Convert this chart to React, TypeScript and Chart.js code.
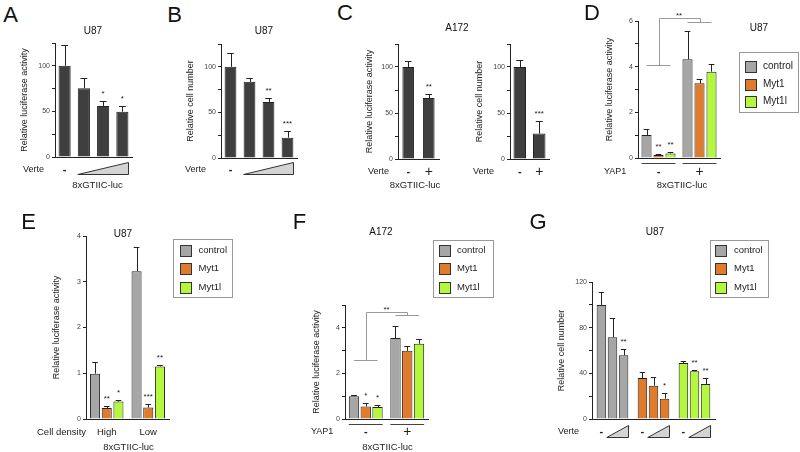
import React, { useEffect, useRef } from "react";
import { Chart, registerables } from "chart.js";

Chart.register(...registerables);

const FONT = "'Liberation Sans', Arial, Helvetica, sans-serif";
Chart.defaults.font.family = FONT;

// ---------------- data ----------------
const SERIES = ["control", "Myt1", "Myt1l"];
const SERIES_COLORS = ["#a6a6a6", "#e07b2c", "#b4f83e"];
const DARK_BAR = "#3f3f3f";

// A: U87 luciferase, Verte dose
const A_DOSES = ["-", "low", "mid", "high"];
const A_VALUES = [100, 75.5, 56, 49.6];
const A_ERRORS = [23, 11.5, 5.7, 6.2];
const A_STARS = ["", "", "*", "*"];

// B: U87 cell number, Verte dose
const B_DOSES = ["-", "low", "mid", "high"];
const B_VALUES = [100, 83.5, 61.5, 22.3];
const B_ERRORS = [15, 4.5, 4.1, 7.7];
const B_STARS = ["", "", "**", "***"];

// C: A172
const C_VERTE = ["-", "+"];
const C_LUC_VALUES = [100, 66.3];
const C_LUC_ERRORS = [6.5, 4.7];
const C_LUC_STARS = ["", "**"];
const C_CELL_VALUES = [100, 27.6];
const C_CELL_ERRORS = [8, 13.7];
const C_CELL_STARS = ["", "***"];

// D: U87, YAP1 -/+
const YAP1 = ["-", "+"];
const D_CONTROL = [1.01, 4.32];
const D_CONTROL_ERR = [0.25, 1.26];
const D_MYT1 = [0.13, 3.27];
const D_MYT1_ERR = [0.045, 0.19];
const D_MYT1L = [0.2, 3.78];
const D_MYT1L_ERR = [0.05, 0.32];
const D_CONTROL_STARS = ["", ""];
const D_MYT1_STARS = ["**", ""];
const D_MYT1L_STARS = ["**", ""];

// E: U87, cell density
const DENSITY = ["High", "Low"];
const E_CONTROL = [0.99, 3.23];
const E_CONTROL_ERR = [0.26, 0.54];
const E_MYT1 = [0.24, 0.25];
const E_MYT1_ERR = [0.04, 0.07];
const E_MYT1L = [0.38, 1.15];
const E_MYT1L_ERR = [0.03, 0.04];
const E_CONTROL_STARS = ["", ""];
const E_MYT1_STARS = ["**", "***"];
const E_MYT1L_STARS = ["*", "**"];

// F: A172, YAP1 -/+
const F_CONTROL = [1.0, 3.55];
const F_CONTROL_ERR = [0.05, 0.52];
const F_MYT1 = [0.55, 2.99];
const F_MYT1_ERR = [0.14, 0.21];
const F_MYT1L = [0.53, 3.3];
const F_MYT1L_ERR = [0.08, 0.23];
const F_CONTROL_STARS = ["", ""];
const F_MYT1_STARS = ["*", ""];
const F_MYT1L_STARS = ["*", ""];

// G: U87 cell number, per series with Verte doses
const G_DOSE0 = [99.9, 35.9, 49];
const G_DOSE0_ERR = [11, 5.6, 1.5];
const G_DOSE1 = [71.5, 29.2, 41.8];
const G_DOSE1_ERR = [16.7, 7.3, 0.8];
const G_DOSE2 = [55.8, 17.8, 30.7];
const G_DOSE2_ERR = [5.5, 5, 5.2];
const G_DOSE0_STARS = ["", "", ""];
const G_DOSE1_STARS = ["", "", "**"];
const G_DOSE2_STARS = ["**", "*", "**"];

// significance bracket levels (value units): low, top, right drop
const D_BRACKET = [4.06, 6.13, 5.94];
const F_BRACKET = [2.6, 4.69, 4.54];

// ---------------- drawing helpers ----------------
const INK = "#222";

function txt(ctx: any, s: string, x: number, y: number, size: number, align = "center", weight = "normal") {
  ctx.save();
  ctx.fillStyle = INK;
  ctx.font = `${weight} ${size}px ${FONT}`;
  ctx.textAlign = align;
  ctx.textBaseline = "middle";
  ctx.fillText(s, x, y);
  ctx.restore();
}

function barAt(c: any, di: number, i: number) {
  const b: any = c.getDatasetMeta(di).data[i];
  return { x: b.x, left: b.x - b.width / 2, right: b.x + b.width / 2, top: b.y };
}

function groupAt(c: any, i: number) {
  const n = c.data.datasets.length;
  const a = barAt(c, 0, i);
  const z = barAt(c, n - 1, i);
  return { first: a.x, last: z.x, left: a.left, right: z.right, center: (a.x + z.x) / 2 };
}

const snap = (v: number) => Math.round(v) + 0.5;

function hline(ctx: any, x0: number, x1: number, y: number) {
  ctx.beginPath();
  ctx.moveTo(x0, snap(y));
  ctx.lineTo(x1, snap(y));
  ctx.stroke();
}
function vline(ctx: any, x: number, y0: number, y1: number) {
  ctx.beginPath();
  ctx.moveTo(snap(x), y0);
  ctx.lineTo(snap(x), y1);
  ctx.stroke();
}

function triangle(ctx: any, x0: number, x1: number, yb: number, yt: number) {
  ctx.save();
  ctx.beginPath();
  ctx.moveTo(x0, snap(yb));
  ctx.lineTo(snap(x1), snap(yb));
  ctx.lineTo(snap(x1), snap(yt));
  ctx.closePath();
  ctx.fillStyle = "#d4d4d4";
  ctx.fill();
  ctx.strokeStyle = "#333";
  ctx.lineWidth = 1;
  ctx.stroke();
  ctx.restore();
}

function drawLegend(ctx: any, px: any, py: any, spec: any) {
  const [x0, y0, x1, y1] = spec.box;
  ctx.save();
  ctx.strokeStyle = "#999";
  ctx.lineWidth = 1;
  ctx.strokeRect(snap(px(x0)), snap(py(y0)), Math.round(x1 - x0), Math.round(y1 - y0));
  SERIES.forEach((name, i) => {
    const yc = py(spec.ys[i]);
    ctx.fillStyle = SERIES_COLORS[i];
    const sx = snap(px(spec.swX));
    const sy = snap(yc - spec.sw / 2);
    ctx.fillRect(sx, sy, spec.sw, spec.sw);
    ctx.strokeStyle = "#333";
    ctx.strokeRect(sx, sy, spec.sw, spec.sw);
    txt(ctx, name, px(spec.textX), yc, spec.size, "left");
  });
  ctx.restore();
}

function bracket(ctx: any, c: any, levels: number[]) {
  const ys = c.scales.y;
  const g0 = groupAt(c, 0);
  const g1 = groupAt(c, 1);
  const yl = ys.getPixelForValue(levels[0]);
  const yt = ys.getPixelForValue(levels[1]);
  const yd = ys.getPixelForValue(levels[2]);
  ctx.save();
  ctx.strokeStyle = "#9a9a9a";
  ctx.lineWidth = 1;
  hline(ctx, g0.first, g0.last, yl);
  vline(ctx, g0.center, snap(yl), snap(yt));
  hline(ctx, snap(g0.center), snap(g1.center), yt);
  vline(ctx, g1.center, snap(yt), snap(yd));
  hline(ctx, g1.first, g1.last, yd);
  ctx.fillStyle = INK;
  ctx.font = `8px ${FONT}`;
  ctx.textAlign = "center";
  ctx.textBaseline = "alphabetic";
  ctx.fillText("**", (g0.center + g1.center) / 2, yt - 0.5);
  ctx.restore();
}

function groupLines(ctx: any, c: any, y: number) {
  ctx.save();
  ctx.strokeStyle = "#444";
  ctx.lineWidth = 1;
  for (let i = 0; i < c.data.labels.length; i++) {
    const g = groupAt(c, i);
    hline(ctx, g.left, g.right, y);
  }
  ctx.restore();
}

const errorBars = {
  id: "errorBars",
  afterDatasetsDraw(c: any) {
    const ctx = c.ctx;
    const ys = c.scales.y;
    c.data.datasets.forEach((ds: any, di: number) => {
      c.getDatasetMeta(di).data.forEach((_el: any, i: number) => {
        const v = ds.data[i];
        const e = ds.err ? ds.err[i] : 0;
        const b = barAt(c, di, i);
        const top = ys.getPixelForValue(v + e);
        ctx.save();
        ctx.strokeStyle = INK;
        ctx.lineWidth = 1;
        vline(ctx, b.x, b.top, snap(top));
        const hw = (b.right - b.left) * 0.28;
        hline(ctx, b.x - hw, b.x + hw, top);
        const s = ds.stars ? ds.stars[i] : "";
        if (s) {
          ctx.fillStyle = INK;
          ctx.font = `8px ${FONT}`;
          ctx.textAlign = "center";
          ctx.textBaseline = "alphabetic";
          ctx.fillText(s, b.x, top - 5);
        }
        ctx.restore();
      });
    });
  },
};

// ---------------- panel configs ----------------
const dsSeries = (vals: number[][], errs: number[][], stars: string[][]) =>
  SERIES.map((name, k) => ({ label: name, data: vals[k], err: errs[k], stars: stars[k], color: SERIES_COLORS[k] }));

const PANELS: any[] = [
  {
    key: "A",
    canvas: [0, 35, 150, 160],
    area: [55, 43, 132, 157],
    titleX: 25,
    yTitle: "Relative luciferase activity",
    yMax: 125, yStep: 25, yLabels: [0, 50, 100],
    categories: A_DOSES,
    datasets: [{ label: "U87 luciferase", data: A_VALUES, err: A_ERRORS, stars: A_STARS, color: DARK_BAR }],
    catPct: 1, barPct: 0.63,
    decorate: (c: any, ctx: any, px: any, py: any) => {
      txt(ctx, "Verte", px(23), py(170), 9, "left");
      txt(ctx, "-", barAt(c, 0, 0).x, py(170), 11, "center", "bold");
      triangle(ctx, barAt(c, 0, 1).left, barAt(c, 0, 3).right, py(174), py(162));
      txt(ctx, "8xGTIIC-luc", px(97.5), py(185), 9.5);
    },
  },
  {
    key: "B",
    canvas: [150, 35, 160, 160],
    area: [221, 44, 297, 158],
    titleX: 191,
    yTitle: "Relative cell number",
    yMax: 125, yStep: 25, yLabels: [0, 50, 100],
    categories: B_DOSES,
    datasets: [{ label: "U87 cell number", data: B_VALUES, err: B_ERRORS, stars: B_STARS, color: DARK_BAR }],
    catPct: 1, barPct: 0.62,
    decorate: (c: any, ctx: any, px: any, py: any) => {
      txt(ctx, "Verte", px(185), py(170), 9, "left");
      txt(ctx, "-", barAt(c, 0, 0).x, py(170), 11, "center", "bold");
      triangle(ctx, barAt(c, 0, 1).left, barAt(c, 0, 3).right, py(174), py(162));
    },
  },
  {
    key: "C1",
    canvas: [340, 35, 110, 160],
    area: [398, 44, 439, 159],
    titleX: 370,
    yTitle: "Relative luciferase activity",
    yMax: 125, yStep: 25, yLabels: [0, 50, 100],
    categories: C_VERTE,
    datasets: [{ label: "A172 luciferase", data: C_LUC_VALUES, err: C_LUC_ERRORS, stars: C_LUC_STARS, color: DARK_BAR }],
    catPct: 1, barPct: 0.57,
    decorate: (c: any, ctx: any, px: any, py: any) => {
      txt(ctx, "Verte", px(368), py(172), 9, "left");
      txt(ctx, "-", barAt(c, 0, 0).x, py(172), 11, "center", "bold");
      txt(ctx, "+", barAt(c, 0, 1).x, py(172), 14);
      txt(ctx, "8xGTIIC-luc", px(415), py(185), 9.5);
    },
  },
  {
    key: "C2",
    canvas: [460, 35, 100, 160],
    area: [510, 44, 549, 159],
    titleX: 480,
    yTitle: "Relative cell number",
    yMax: 125, yStep: 25, yLabels: [0, 50, 100],
    categories: C_VERTE,
    datasets: [{ label: "A172 cell number", data: C_CELL_VALUES, err: C_CELL_ERRORS, stars: C_CELL_STARS, color: DARK_BAR }],
    catPct: 1, barPct: 0.64,
    decorate: (c: any, ctx: any, px: any, py: any) => {
      txt(ctx, "Verte", px(473), py(172), 9, "left");
      txt(ctx, "-", barAt(c, 0, 0).x, py(172), 11, "center", "bold");
      txt(ctx, "+", barAt(c, 0, 1).x, py(172), 14);
    },
  },
  {
    key: "D",
    canvas: [585, 0, 215, 195],
    area: [638, 21, 720, 158],
    titleX: 610,
    yTitle: "Relative luciferase activity",
    yMax: 6, yStep: 1, yLabels: [0, 2, 4, 6],
    categories: YAP1,
    datasets: dsSeries([D_CONTROL, D_MYT1, D_MYT1L], [D_CONTROL_ERR, D_MYT1_ERR, D_MYT1L_ERR], [D_CONTROL_STARS, D_MYT1_STARS, D_MYT1L_STARS]),
    catPct: 0.878, barPct: 0.84,
    decorate: (c: any, ctx: any, px: any, py: any) => {
      bracket(ctx, c, D_BRACKET);
      groupLines(ctx, c, py(163));
      txt(ctx, "YAP1", px(604), py(172), 9, "left");
      txt(ctx, "-", groupAt(c, 0).center, py(172), 11, "center", "bold");
      txt(ctx, "+", groupAt(c, 1).center, py(172), 14);
      txt(ctx, "8xGTIIC-luc", px(682), py(185), 9.5);
      drawLegend(ctx, px, py, { box: [739, 52, 798, 112], swX: 745, sw: 11, textX: 763, ys: [66.3, 84.5, 101.2], size: 10 });
    },
  },
  {
    key: "E",
    canvas: [0, 225, 240, 227],
    area: [86, 236, 169, 419],
    titleX: 57,
    yTitle: "Relative luciferase activity",
    yMax: 4, yStep: 1, yLabels: [0, 1, 2, 3, 4],
    categories: DENSITY,
    datasets: dsSeries([E_CONTROL, E_MYT1, E_MYT1L], [E_CONTROL_ERR, E_MYT1_ERR, E_MYT1L_ERR], [E_CONTROL_STARS, E_MYT1_STARS, E_MYT1L_STARS]),
    catPct: 0.845, barPct: 0.86,
    decorate: (c: any, ctx: any, px: any, py: any) => {
      txt(ctx, "Cell density", px(37), py(432), 9.5, "left");
      txt(ctx, "High", groupAt(c, 0).center, py(432), 9.5);
      txt(ctx, "Low", groupAt(c, 1).center, py(432), 9.5);
      txt(ctx, "8xGTIIC-luc", px(128.5), py(447), 9.5);
      drawLegend(ctx, px, py, { box: [173, 238.5, 232, 296], swX: 180, sw: 11, textX: 198.5, ys: [250.3, 268.7, 287], size: 9.5 });
    },
  },
  {
    key: "F",
    canvas: [290, 225, 210, 227],
    area: [345, 305, 428, 419],
    titleX: 317,
    yTitle: "Relative luciferase activity",
    yMax: 5, yStep: 1, yLabels: [0, 2, 4],
    categories: YAP1,
    datasets: dsSeries([F_CONTROL, F_MYT1, F_MYT1L], [F_CONTROL_ERR, F_MYT1_ERR, F_MYT1L_ERR], [F_CONTROL_STARS, F_MYT1_STARS, F_MYT1L_STARS]),
    catPct: 0.85, barPct: 0.88,
    decorate: (c: any, ctx: any, px: any, py: any) => {
      bracket(ctx, c, F_BRACKET);
      groupLines(ctx, c, py(424));
      txt(ctx, "YAP1", px(311), py(432), 9, "left");
      txt(ctx, "-", groupAt(c, 0).center, py(432), 11, "center", "bold");
      txt(ctx, "+", groupAt(c, 1).center, py(432), 14);
      txt(ctx, "8xGTIIC-luc", px(387.5), py(447), 9.5);
      drawLegend(ctx, px, py, { box: [432.5, 239.5, 492, 296], swX: 438.5, sw: 11, textX: 457, ys: [250.3, 268.7, 287], size: 9.5 });
    },
  },
  {
    key: "G",
    canvas: [540, 225, 260, 227],
    area: [592, 282, 715, 419],
    titleX: 562,
    yTitle: "Relative cell number",
    yMax: 120, yStep: 20, yLabels: [0, 40, 80, 120],
    categories: SERIES,
    datasets: [
      { label: "Verte -", data: G_DOSE0, err: G_DOSE0_ERR, stars: G_DOSE0_STARS, color: SERIES_COLORS },
      { label: "Verte low", data: G_DOSE1, err: G_DOSE1_ERR, stars: G_DOSE1_STARS, color: SERIES_COLORS },
      { label: "Verte high", data: G_DOSE2, err: G_DOSE2_ERR, stars: G_DOSE2_STARS, color: SERIES_COLORS },
    ],
    catPct: 0.81, barPct: 0.86,
    decorate: (c: any, ctx: any, px: any, py: any) => {
      txt(ctx, "Verte", px(558), py(432), 9, "left");
      for (let i = 0; i < SERIES.length; i++) {
        txt(ctx, "-", barAt(c, 0, i).x, py(432), 11, "center", "bold");
        triangle(ctx, barAt(c, 1, i).left - 1, barAt(c, 2, i).right, py(437), py(425));
      }
      drawLegend(ctx, px, py, { box: [710, 239.5, 768, 296], swX: 715, sw: 11, textX: 734, ys: [250.3, 268.7, 287], size: 9.5 });
    },
  },
];

const LETTERS: [string, number, number][] = [
  ["A", 10.5, 15], ["B", 174.7, 15], ["C", 345, 12.5], ["D", 592, 12.5],
  ["E", 28.5, 221.5], ["F", 299.5, 221.5], ["G", 538, 221.5],
];
const TITLES: [string, number, number][] = [
  ["U87", 93, 30.5], ["U87", 264, 30.5], ["A172", 457, 28.3], ["U87", 759, 28.3],
  ["U87", 123, 234.3], ["A172", 381, 232], ["U87", 655, 232],
];

function Panel({ cfg }: { cfg: any }) {
  const ref = useRef<HTMLCanvasElement>(null);
  const [cx, cy, cw, ch] = cfg.canvas;
  useEffect(() => {
    const [L, T, R, B] = cfg.area;
    const titleSize = 9;
    const boxLeft = cfg.titleX - (titleSize * 1.2) / 2;
    const px = (x: number) => x - cx;
    const py = (y: number) => y - cy;
    const decoratePlugin = {
      id: "decorate",
      afterDraw(c: any) {
        cfg.decorate(c, c.ctx, px, py);
      },
    };
    const chart = new Chart(ref.current as HTMLCanvasElement, {
      type: "bar",
      data: {
        labels: cfg.categories,
        datasets: cfg.datasets.map((d: any) => ({
          label: d.label,
          data: d.data,
          err: d.err,
          stars: d.stars,
          backgroundColor: d.color,
          borderColor: INK,
          borderWidth: 1,
          borderSkipped: "start",
          categoryPercentage: cfg.catPct,
          barPercentage: cfg.barPct,
        })),
      } as any,
      options: {
        responsive: false,
        animation: false,
        devicePixelRatio: 1,
        events: [],
        layout: {
          autoPadding: false,
          padding: { left: boxLeft - cx, top: T - cy, right: cx + cw - R, bottom: cy + ch - B },
        },
        plugins: { legend: { display: false }, tooltip: { enabled: false }, title: { display: false } },
        scales: {
          x: {
            type: "category",
            offset: true,
            grid: { display: false },
            ticks: { display: false },
            border: { display: true, color: INK, width: 1 },
            afterFit: (s: any) => { s.height = 0; },
          },
          y: {
            type: "linear",
            min: 0,
            max: cfg.yMax,
            afterFit: (s: any) => { s.width = L - boxLeft; },
            ticks: {
              stepSize: cfg.yStep,
              autoSkip: false,
              padding: 2,
              color: "#444",
              font: { size: 7 },
              callback: (v: any) => (cfg.yLabels.includes(Number(v)) ? String(v) : ""),
            },
            grid: { display: true, drawOnChartArea: false, drawTicks: true, tickLength: 3, color: INK, lineWidth: 1 },
            border: { display: true, color: INK, width: 1 },
            title: { display: true, text: cfg.yTitle, color: INK, font: { size: titleSize, lineHeight: 1.2 }, padding: 0 },
          },
        },
      } as any,
      plugins: [errorBars, decoratePlugin],
    });
    return () => chart.destroy();
  }, []);
  return (
    <canvas
      ref={ref}
      width={cw}
      height={ch}
      style={{ position: "absolute", left: cx, top: cy, width: cw, height: ch }}
    />
  );
}

export default function App() {
  const label = (s: string, x: number, y: number, size: number, k: string) => (
    <div
      key={k}
      style={{
        position: "absolute",
        left: x,
        top: y,
        transform: "translate(-50%, -50%)",
        fontFamily: FONT,
        fontSize: size,
        lineHeight: 1,
        color: "#111",
        whiteSpace: "nowrap",
      }}
    >
      {s}
    </div>
  );
  return (
    <div style={{ position: "absolute", left: 0, top: 0, width: 800, height: 452, background: "#fff", overflow: "hidden" }}>
      {PANELS.map((p) => (
        <Panel key={p.key} cfg={p} />
      ))}
      {LETTERS.map(([s, x, y], i) => label(s, x, y, 22, "L" + i))}
      {TITLES.map(([s, x, y], i) => label(s, x, y, 10, "T" + i))}
    </div>
  );
}
